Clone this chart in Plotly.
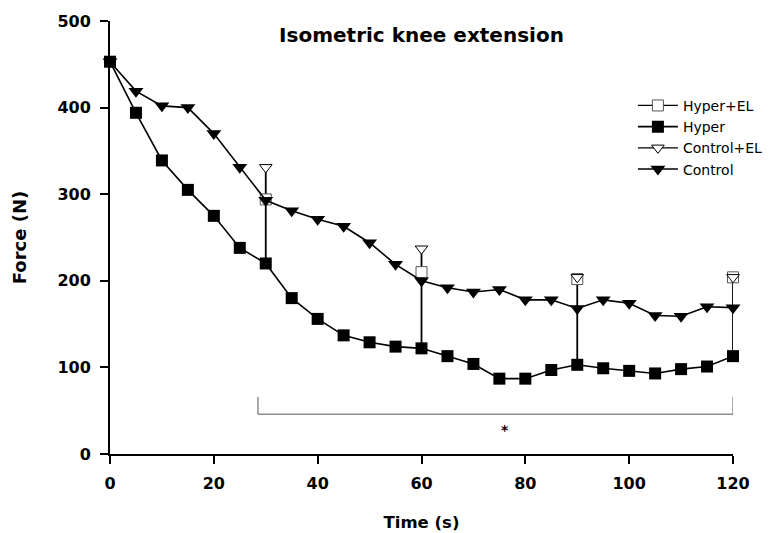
import plotly.graph_objects as go

# ---- data ----
time_s = [0, 5, 10, 15, 20, 25, 30, 35, 40, 45, 50, 55, 60, 65, 70, 75, 80, 85, 90, 95, 100, 105, 110, 115, 120]
hyper = [453, 394, 339, 305, 275, 238, 220, 180, 156, 137, 129, 124, 122, 113, 104, 87, 87, 97, 103, 99, 96, 93, 98, 101, 113]
control = [453, 419, 402, 400, 370, 331, 293, 281, 271, 263, 244, 219, 200, 192, 187, 190, 178, 178, 168, 178, 174, 160, 159, 170, 169]
el_time = [30, 60, 90, 120]
hyper_el = [294, 210, 202, 204]
control_el = [331, 237, 204, 204]
x_ticks = [0, 20, 40, 60, 80, 100, 120]
y_ticks = [0, 100, 200, 300, 400, 500]
bracket_x = [28.5, 120]
bracket_y = [46, 66]
star_pos = [76, 28]

FONT = "DejaVu Sans, Liberation Sans, Arial, sans-serif"

def gapped(xs, ys):
    gx, gy = [], []
    for a, b in zip(xs, ys):
        gx += [a, None]
        gy += [b, None]
    return gx, gy

# vertical connectors from Hyper value to Control+EL value at the EL time points
vx, vy = [], []
for t, top in zip(el_time, control_el):
    bottom = hyper[time_s.index(t)]
    vx += [t, t, None]
    vy += [bottom, top, None]

fig = go.Figure()

fig.add_trace(go.Scatter(x=vx, y=vy, mode="lines", line=dict(color="black", width=1.8),
                         showlegend=False, hoverinfo="skip", cliponaxis=False))

hx, hy = gapped(el_time, hyper_el)
fig.add_trace(go.Scatter(x=hx, y=hy, mode="lines+markers", name="Hyper+EL",
                         line=dict(color="black", width=1.2),
                         marker=dict(symbol="square", size=11, color="white",
                                     line=dict(color="#555555", width=1)),
                         cliponaxis=False))
fig.add_trace(go.Scatter(x=time_s, y=hyper, mode="lines+markers", name="Hyper",
                         line=dict(color="black", width=1.6),
                         marker=dict(symbol="square", size=12, color="black"),
                         cliponaxis=False))
cx, cy = gapped(el_time, control_el)
fig.add_trace(go.Scatter(x=cx, y=cy, mode="lines+markers", name="Control+EL",
                         line=dict(color="black", width=1.2),
                         marker=dict(symbol="triangle-down", size=11, color="white",
                                     line=dict(color="black", width=1)),
                         cliponaxis=False))
fig.add_trace(go.Scatter(x=time_s, y=control, mode="lines+markers", name="Control",
                         line=dict(color="black", width=1.6),
                         marker=dict(symbol="triangle-down", size=13, color="black"),
                         cliponaxis=False))

# significance bracket
fig.add_shape(type="path",
              path=f"M {bracket_x[0]},{bracket_y[1]} L {bracket_x[0]},{bracket_y[0]} "
                   f"L {bracket_x[1]},{bracket_y[0]} L {bracket_x[1]},{bracket_y[1]}",
              xref="x", yref="y", line=dict(color="#555555", width=1))
fig.add_annotation(x=star_pos[0], y=star_pos[1], text="*", showarrow=False,
                   font=dict(family=FONT, size=14, color="black", weight="bold"))

W, H = 771, 533
fig.update_layout(
    width=W, height=H,
    margin=dict(l=102, r=45, t=13, b=87),
    paper_bgcolor="white", plot_bgcolor="white",
    title=dict(text="Isometric knee extension", x=0.5, xref="paper", y=1 - 27 / H,
               yref="container", xanchor="center", yanchor="middle",
               font=dict(family=FONT, size=20, color="black", weight="bold")),
    legend=dict(x=0.838, y=0.841, xanchor="left", yanchor="top",
                font=dict(family=FONT, size=14, color="black"),
                itemwidth=40,
                bgcolor="rgba(0,0,0,0)", tracegroupgap=0),
    xaxis=dict(range=[0, 120], tickvals=x_ticks, ticks="outside", ticklen=8, tickwidth=2,
               tickcolor="black", showline=True, linecolor="black", linewidth=2,
               showgrid=False, zeroline=False, ticklabelstandoff=6, automargin=False,
               tickfont=dict(family=FONT, size=16, color="black", weight="bold"),
               title=dict(text="Time (s)", standoff=24,
                          font=dict(family=FONT, size=16.5, color="black", weight="bold"))),
    yaxis=dict(range=[0, 500], tickvals=y_ticks, ticks="outside", ticklen=8, tickwidth=2,
               tickcolor="black", showline=True, linecolor="black", linewidth=2,
               showgrid=False, zeroline=False, ticklabelstandoff=6, automargin=False,
               tickfont=dict(family=FONT, size=16, color="black", weight="bold"),
               title=dict(text="Force (N)", standoff=26,
                          font=dict(family=FONT, size=18, color="black", weight="bold"))),
)

fig.write_html("out.html")
